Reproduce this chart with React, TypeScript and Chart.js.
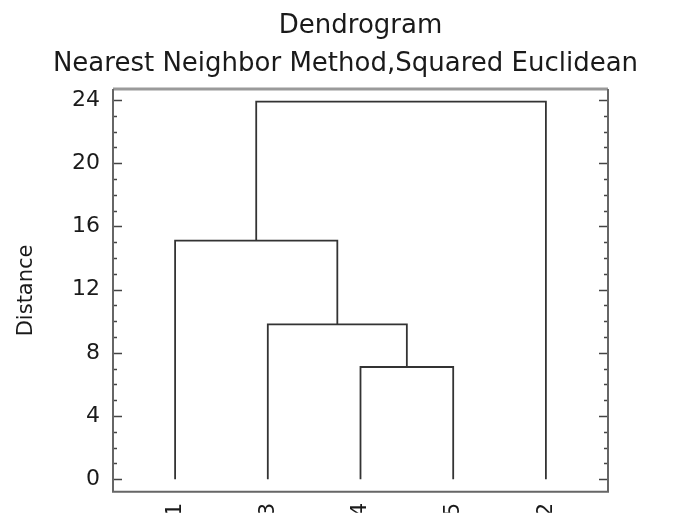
import React, { useEffect, useRef } from "react";
import { Chart, registerables } from "chart.js";

Chart.register(...registerables);

// ---- data ----
const titleLines = ["Dendrogram", "Nearest Neighbor Method,Squared Euclidean"];
const yAxisTitle = "Distance";
const leafLabels = ["1", "3", "4", "5", "2"];
// merges: node ids 0..4 are leaves (in display order), new clusters get ids 5,6,7,8
const mergeLeft = [2, 1, 0, 7];
const mergeRight = [3, 5, 6, 4];
const mergeHeights = [7.1, 9.8, 15.1, 23.9];
const yTicks = [0, 4, 8, 12, 16, 20, 24];
const yMinorTicks = [1, 2, 3, 5, 6, 7, 9, 10, 11, 13, 14, 15, 17, 18, 19, 21, 22, 23];
const yMin = -0.8;
const yMax = 24.7;
const xMin = -0.67;
const xMax = 4.67;

const FONT = "'DejaVu Sans', sans-serif";
const LINE = "#333333";
const TEXT = "#1a1a1a";

function buildLinks() {
  const nodeX: number[] = leafLabels.map((_, i) => i);
  const nodeH: number[] = leafLabels.map(() => 0);
  const links: { x: number; y: number }[][] = [];
  for (let m = 0; m < mergeHeights.length; m++) {
    const a = mergeLeft[m];
    const b = mergeRight[m];
    const h = mergeHeights[m];
    links.push([
      { x: nodeX[a], y: nodeH[a] },
      { x: nodeX[a], y: h },
      { x: nodeX[b], y: h },
      { x: nodeX[b], y: nodeH[b] },
    ]);
    nodeX.push((nodeX[a] + nodeX[b]) / 2);
    nodeH.push(h);
  }
  return links;
}

const framePlugin = {
  id: "frameAndTicks",
  afterDraw(chart: any) {
    const { ctx, chartArea } = chart;
    const { left, right, top, bottom } = chartArea;
    const y = chart.scales.y;
    ctx.save();
    // ticks
    ctx.strokeStyle = "#444";
    ctx.lineWidth = 1.3;
    const drawTick = (v: number, len: number) => {
      const py = Math.round(y.getPixelForValue(v)) + 0.5;
      ctx.beginPath();
      ctx.moveTo(left, py);
      ctx.lineTo(left + len, py);
      ctx.moveTo(right, py);
      ctx.lineTo(right - len, py);
      ctx.stroke();
    };
    yTicks.forEach((v) => drawTick(v, 9));
    yMinorTicks.forEach((v) => drawTick(v, 4));
    // frame
    ctx.strokeStyle = "#9a9a9a";
    ctx.lineWidth = 3;
    ctx.beginPath();
    ctx.moveTo(left, top);
    ctx.lineTo(right, top);
    ctx.stroke();
    ctx.strokeStyle = "#666";
    ctx.lineWidth = 2;
    ctx.beginPath();
    ctx.moveTo(right, top);
    ctx.lineTo(right, bottom);
    ctx.lineTo(left, bottom);
    ctx.lineTo(left, top);
    ctx.stroke();
    // titles
    ctx.fillStyle = TEXT;
    ctx.font = `26px ${FONT}`;
    ctx.textAlign = "center";
    ctx.textBaseline = "alphabetic";
    const cx = (left + right) / 2;
    ctx.fillText(titleLines[0], cx, 33);
    ctx.fillText(titleLines[1], cx - 15, 71);
    ctx.restore();
  },
};

export default function App() {
  const ref = useRef<HTMLCanvasElement | null>(null);
  useEffect(() => {
    if (!ref.current) return;
    const links = buildLinks();
    const chart = new Chart(ref.current, {
      type: "scatter",
      data: {
        datasets: links.map((pts) => ({
          data: pts,
          showLine: true,
          borderColor: LINE,
          borderWidth: 1.8,
          pointRadius: 0,
          fill: false,
        })),
      },
      options: {
        animation: false,
        responsive: false,
        maintainAspectRatio: false,
        layout: { padding: { left: 0, right: 67, top: 89, bottom: 0 } },
        plugins: { legend: { display: false }, tooltip: { enabled: false }, title: { display: false } },
        scales: {
          x: {
            type: "linear",
            min: xMin,
            max: xMax,
            afterBuildTicks: (s: any) => {
              s.ticks = leafLabels.map((_, i) => ({ value: i }));
            },
            afterFit: (s: any) => {
              s.height = 21;
            },
            grid: { display: false, drawTicks: false },
            border: { display: false },
            ticks: {
              minRotation: 90,
              maxRotation: 90,
              padding: 11,
              color: TEXT,
              font: { family: FONT, size: 22 },
              callback: (v: any) => leafLabels[Math.round(Number(v))] ?? "",
            },
          },
          y: {
            type: "linear",
            min: yMin,
            max: yMax,
            afterBuildTicks: (s: any) => {
              s.ticks = yTicks.map((v) => ({ value: v }));
            },
            afterFit: (s: any) => {
              s.width = 113;
            },
            grid: { display: false, drawTicks: false },
            border: { display: false },
            ticks: {
              padding: 13,
              color: TEXT,
              font: { family: FONT, size: 22 },
              callback: (v: any) => String(v),
            },
            title: {
              display: true,
              text: yAxisTitle,
              color: TEXT,
              font: { family: FONT, size: 21 },
              padding: { top: 14, bottom: 0 },
            },
          },
        },
      },
      plugins: [framePlugin],
    });
    return () => chart.destroy();
  }, []);
  return (
    <div style={{ position: "fixed", left: 0, top: 0, width: 675, height: 518, background: "#fff" }}>
      <canvas ref={ref} width={675} height={518} style={{ width: 675, height: 518 }} />
    </div>
  );
}
